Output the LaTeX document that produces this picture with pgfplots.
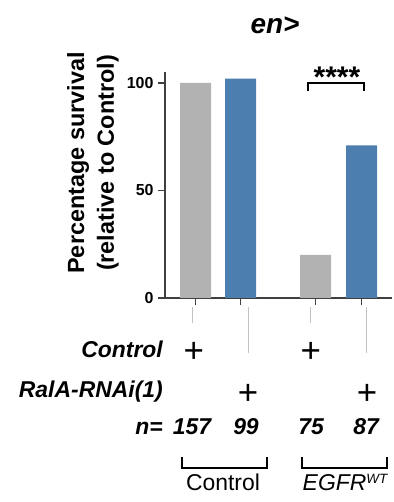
\documentclass[border=0pt]{standalone}
\usepackage{fontspec}
\setmainfont{Liberation Sans}
\usepackage{pgfplots}
\pgfplotsset{compat=1.18}
\definecolor{barGray}{RGB}{178,178,178}
\definecolor{barBlue}{RGB}{77,126,176}
\definecolor{axisGray}{RGB}{64,64,64}
\definecolor{thinGray}{RGB}{195,195,195}
\begin{document}
\begin{tikzpicture}
\useasboundingbox (0,0) rectangle (394bp,502bp);
\begin{axis}[
  at={(165bp,204bp)}, anchor=south west,
  scale only axis, width=227bp, height=226bp,
  xmin=165, xmax=392, ymin=0, ymax=105.1,
  axis x line*=bottom, axis y line*=left,
  axis line style={line width=1.8bp, axisGray},
  xtick={195.5,240.5,315.5,361.5}, xticklabels={},
  ytick={0,50,100},
  tick align=outside, major tick length=7bp,
  tick style={line width=1.5bp, axisGray},
  /pgf/number format/assume math mode=true,
  yticklabel style={font=\bfseries\fontsize{16}{16}\selectfont, black, xshift=-1bp},
  clip=false,
]
\addplot[ybar, bar shift=0pt, bar width=31bp, fill=barGray, draw=none] coordinates {(195.5,100) (315.5,20)};
\addplot[ybar, bar shift=0pt, bar width=31bp, fill=barBlue, draw=none] coordinates {(240.5,102) (361.5,71)};
\end{axis}
% title
\node[font=\bfseries\itshape\fontsize{28}{28}\selectfont] at (275bp,477bp) {en>};
% y label
\node[rotate=90, font=\bfseries\fontsize{23.5}{30}\selectfont, align=center] at (93bp,339bp) {Percentage survival\\(relative to Control)};
% significance
\node[anchor=base, font=\bfseries\fontsize{30}{30}\selectfont, inner sep=0pt] at (337bp,414bp) {****};
\draw[line width=2bp] (307.7bp,410.5bp) -- (307.7bp,418.5bp) -- (364bp,418.5bp) -- (364bp,410.5bp);
% thin gray guide lines
\draw[thinGray, line width=1bp] (192.3bp,195bp) -- (192.3bp,179bp);
\draw[thinGray, line width=1bp] (248.3bp,195bp) -- (248.3bp,149bp);
\draw[thinGray, line width=1bp] (310.7bp,195bp) -- (310.7bp,179bp);
\draw[thinGray, line width=1bp] (366.7bp,195bp) -- (366.7bp,149bp);
% row labels
\begin{scope}[every node/.style={font=\bfseries\itshape\fontsize{23}{23}\selectfont, inner sep=0pt}]
\node[anchor=base east] at (163bp,144bp) {Control};
\node[anchor=base east] at (163bp,104bp) {RalA-RNAi(1)};
\node[anchor=base east] at (163bp,67bp) {n=};
\node[anchor=base] at (192bp,67bp) {157};
\node[anchor=base] at (246bp,67bp) {99};
\node[anchor=base] at (311bp,67bp) {75};
\node[anchor=base] at (366bp,67bp) {87};
\end{scope}
\begin{scope}[every node/.style={font=\fontsize{35}{35}\selectfont, inner sep=0pt, anchor=base}]
\node at (193.7bp,139.3bp) {+};
\node at (310.7bp,139.3bp) {+};
\node at (248bp,97.1bp) {+};
\node at (367bp,97.1bp) {+};
\end{scope}
% group brackets
\draw[line width=2bp] (182.3bp,45.3bp) -- (182.3bp,33.5bp) -- (266.7bp,33.5bp) -- (266.7bp,45.3bp);
\draw[line width=2bp] (301.7bp,45.3bp) -- (301.7bp,33.5bp) -- (386.7bp,33.5bp) -- (386.7bp,45.3bp);
\node[anchor=base, inner sep=0pt, font=\fontsize{23}{23}\selectfont] at (223bp,11.3bp) {Control};
\node[anchor=base, inner sep=0pt, font=\itshape\fontsize{23}{23}\selectfont] at (345bp,11.3bp) {EGFR\raisebox{6.8bp}{\fontsize{13.5}{13.5}\selectfont WT}};
\end{tikzpicture}
\end{document}
